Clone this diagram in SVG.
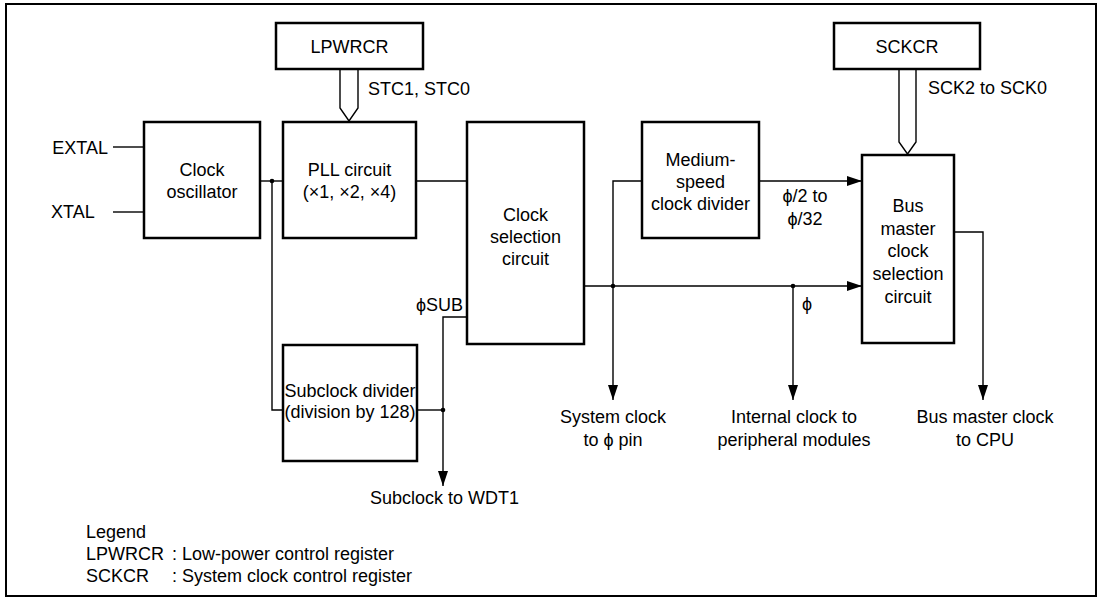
<svg xmlns="http://www.w3.org/2000/svg" width="1102" height="604" viewBox="0 0 1102 604">
<defs>
<style>
.box{fill:#fff;stroke:#000;stroke-width:2.5}
.ln{fill:none;stroke:#000;stroke-width:1.4}
.bus{fill:#fff;stroke:#000;stroke-width:1.4}
text{font-family:"Liberation Sans",Arial,Helvetica,sans-serif;font-size:18px;fill:#000}
.c{text-anchor:middle}
.e{text-anchor:end}
</style>
<marker id="arr" markerUnits="userSpaceOnUse" markerWidth="16" markerHeight="10" refX="15" refY="5" orient="auto">
<path d="M0,0 L15,5 L0,10 z" fill="#000"/>
</marker>
</defs>
<rect x="0" y="0" width="1102" height="604" fill="#fff"/>
<rect x="6" y="4" width="1090" height="592" fill="none" stroke="#000" stroke-width="2"/>

<g id="connectors">
<path class="ln" d="M113,147 H144"/>
<path class="ln" d="M113,212 H144"/>
<path class="ln" d="M260,181 H283"/>
<path class="ln" d="M272,181 V410 H283"/>
<path class="ln" d="M416,181 H467"/>
<path class="ln" d="M467,317 H443 V486" marker-end="url(#arr)"/>
<path class="ln" d="M417,410 H443"/>
<path class="ln" d="M642,181 H613 V400" marker-end="url(#arr)"/>
<path class="ln" d="M584,286 H862" marker-end="url(#arr)"/>
<path class="ln" d="M793,286 V400" marker-end="url(#arr)"/>
<path class="ln" d="M759,181 H862" marker-end="url(#arr)"/>
<path class="ln" d="M954,232 H983 V400" marker-end="url(#arr)"/>
<path class="bus" d="M340,69 V108 L349,121 L358,108 V69"/>
<path class="bus" d="M899,69 V142 L907.5,154 L916,142 V69"/>
<circle cx="272" cy="181" r="2.3"/>
<circle cx="443" cy="410" r="2.3"/>
<circle cx="613" cy="286" r="2.3"/>
<circle cx="793" cy="286" r="2.3"/>
</g>

<g id="labels">
<text class="e" x="108" y="154">EXTAL</text>
<text x="51" y="218">XTAL</text>
<text x="368" y="95">STC1, STC0</text>
<text x="928" y="94">SCK2 to SCK0</text>
<text class="c" x="805" y="202">ϕ/2 to</text>
<text class="c" x="805" y="225">ϕ/32</text>
<text class="e" x="463" y="311">ϕSUB</text>
<text x="802" y="310">ϕ</text>
<text x="370" y="504">Subclock to WDT1</text>
<text class="c" x="613" y="423">System clock</text>
<text class="c" x="613" y="446">to ϕ pin</text>
<text class="c" x="794" y="423">Internal clock to</text>
<text class="c" x="794" y="446">peripheral modules</text>
<text class="c" x="985" y="423">Bus master clock</text>
<text class="c" x="985" y="446">to CPU</text>
</g>

<g id="lpwrcr">
<rect class="box" x="276" y="23" width="147" height="46"/>
<text class="c" x="349.5" y="53">LPWRCR</text>
</g>
<g id="sckcr">
<rect class="box" x="834" y="23" width="146" height="46"/>
<text class="c" x="907" y="53">SCKCR</text>
</g>
<g id="oscillator">
<rect class="box" x="144" y="122" width="116" height="116"/>
<text class="c" x="202" y="176">Clock</text>
<text class="c" x="202" y="198">oscillator</text>
</g>
<g id="pll">
<rect class="box" x="283" y="122" width="133" height="116"/>
<text class="c" x="349.5" y="176">PLL circuit</text>
<text class="c" x="349.5" y="198">(×1, ×2, ×4)</text>
</g>
<g id="clocksel">
<rect class="box" x="467" y="122" width="117" height="222"/>
<text class="c" x="525.5" y="221">Clock</text>
<text class="c" x="525.5" y="243">selection</text>
<text class="c" x="525.5" y="265">circuit</text>
</g>
<g id="medium">
<rect class="box" x="642" y="122" width="117" height="116"/>
<text class="c" x="700.5" y="166">Medium-</text>
<text class="c" x="700.5" y="188">speed</text>
<text class="c" x="700.5" y="210">clock divider</text>
</g>
<g id="busmaster">
<rect class="box" x="862" y="155" width="92" height="188"/>
<text class="c" x="908" y="212">Bus</text>
<text class="c" x="908" y="235">master</text>
<text class="c" x="908" y="257">clock</text>
<text class="c" x="908" y="280">selection</text>
<text class="c" x="908" y="303">circuit</text>
</g>
<g id="subclock">
<rect class="box" x="283" y="345" width="134" height="116"/>
<text class="c" x="350" y="397">Subclock divider</text>
<text class="c" x="350" y="418">(division by 128)</text>
</g>
<g id="legend">
<text x="86" y="538">Legend</text>
<text x="86" y="560">LPWRCR<tspan x="172">: Low-power control register</tspan></text>
<text x="86" y="582">SCKCR<tspan x="172">: System clock control register</tspan></text>
</g>
</svg>
